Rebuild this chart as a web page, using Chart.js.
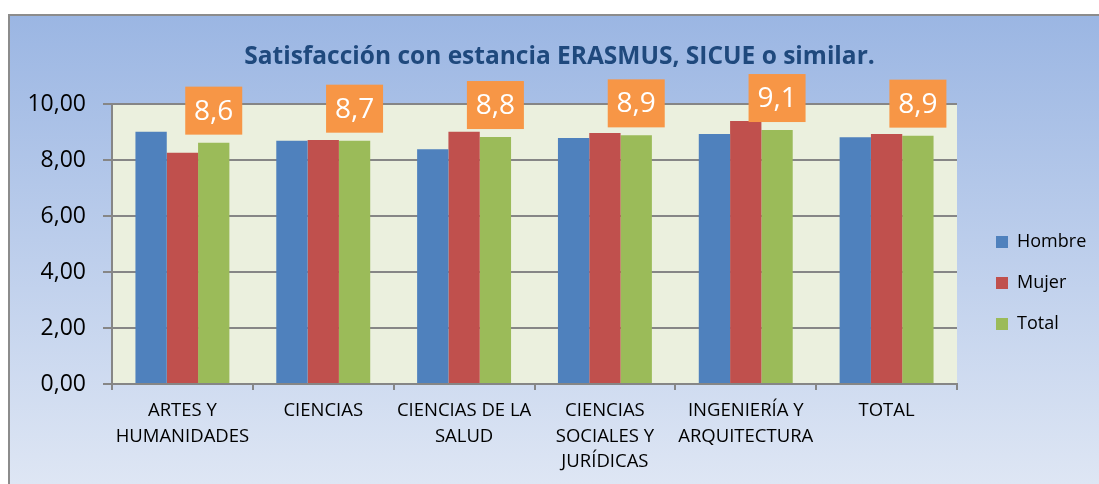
<!DOCTYPE html>
<html lang="es">
<head>
    <meta charset="UTF-8">
    <title>Satisfacción con estancia ERASMUS, SICUE o similar.</title>
    <script src="https://cdn.jsdelivr.net/npm/chart.js"></script>
    <style>
        html, body { margin: 0; padding: 0; background: #fff; }
        #frame {
            position: absolute; left: 8px; top: 14px; width: 1091px; height: 470px;
            box-sizing: border-box;
            border-left: 2px solid #8c8c8c; border-top: 2px solid #8c8c8c;
            background: linear-gradient(to bottom, #9bb6e3, #dee6f4);
        }
        #wrap { position: absolute; left: 0; top: 0; width: 1099px; height: 484px; }
    </style>
</head>
<body>
    <div id="frame"></div>
    <div id="wrap"><canvas id="chart" width="1099" height="484"></canvas></div>

    <script>
        // Data
        const categories = [
            ['ARTES Y', 'HUMANIDADES'],
            ['CIENCIAS'],
            ['CIENCIAS DE LA', 'SALUD'],
            ['CIENCIAS', 'SOCIALES Y', 'JURÍDICAS'],
            ['INGENIERÍA Y', 'ARQUITECTURA'],
            ['TOTAL']
        ];
        const hombre = [9.01, 8.69, 8.38, 8.79, 8.93, 8.81];
        const mujer  = [8.26, 8.71, 9.01, 8.96, 9.39, 8.93];
        const total  = [8.62, 8.69, 8.82, 8.88, 9.07, 8.87];
        const yTicks = [0, 2, 4, 6, 8, 10];

        const fmt = (v, d) => v.toFixed(d).replace('.', ',');

        // plot fill, legend placement and the orange value boxes
        const decor = {
            id: 'decor',
            afterInit(chart) {
                const lg = chart.legend;
                const fit = lg.fit;
                lg.fit = function () { fit.call(this); this.width = 142; };
            },
            afterLayout(chart) {
                const lg = chart.legend;
                const a = chart.chartArea;
                lg.left = a.right + 16;
                lg.top = a.top + 39;
                lg.bottom = a.bottom + 39;
            },
            beforeDraw(chart) {
                const { ctx, chartArea: a } = chart;
                ctx.save();
                ctx.fillStyle = '#ebf0de';
                ctx.fillRect(a.left, a.top, a.right - a.left, a.bottom - a.top);
                ctx.restore();
            },
            afterDatasetsDraw(chart) {
                const ctx = chart.ctx;
                const meta = chart.getDatasetMeta(2);
                ctx.save();
                meta.data.forEach((bar, i) => {
                    const w = 57, h = 48;
                    const top = bar.y - 8 - h;
                    ctx.fillStyle = '#f79646';
                    ctx.fillRect(bar.x - w / 2, top, w, h);
                    ctx.fillStyle = '#ffffff';
                    ctx.font = '28px "Open Sans"';
                    ctx.textAlign = 'center';
                    ctx.textBaseline = 'middle';
                    ctx.fillText(fmt(total[i], 1), bar.x, top + h / 2 + 1);
                });
                ctx.restore();
            }
        };

        new Chart(document.getElementById('chart'), {
            type: 'bar',
            data: {
                labels: categories,
                datasets: [
                    { label: 'Hombre', data: hombre, backgroundColor: '#4f81bd' },
                    { label: 'Mujer', data: mujer, backgroundColor: '#c0504d' },
                    { label: 'Total', data: total, backgroundColor: '#9bbb59' }
                ]
            },
            options: {
                responsive: false,
                animation: false,
                devicePixelRatio: 1,
                categoryPercentage: 0.667,
                barPercentage: 1,
                layout: { padding: { left: 20, right: 0, top: 0, bottom: 0 } },
                plugins: {
                    title: {
                        display: true,
                        text: 'Satisfacción con estancia ERASMUS, SICUE o similar.',
                        color: '#1f497d',
                        font: { family: 'Open Sans', size: 24.5, weight: 'bold', lineHeight: 1.2 },
                        padding: { top: 42, bottom: 32.6 }
                    },
                    legend: {
                        position: 'right',
                        fullSize: false,
                        labels: {
                            boxWidth: 12, boxHeight: 12, padding: 23,
                            color: '#000',
                            font: { family: 'Open Sans', size: 18 }
                        }
                    },
                    tooltip: { enabled: false }
                },
                scales: {
                    x: {
                        offset: true,
                        grid: { offset: true, drawOnChartArea: false, tickLength: 6, color: '#868686', lineWidth: 2 },
                        border: { color: '#868686', width: 2 },
                        ticks: {
                            color: '#000', padding: 8, maxRotation: 0, autoSkip: false,
                            font: { family: 'Open Sans', size: 18.5, lineHeight: 1.38 }
                        },
                        afterFit(s) { s.height = 100; }
                    },
                    y: {
                        min: 0, max: 10,
                        afterBuildTicks(s) { s.ticks = yTicks.map(v => ({ value: v })); },
                        grid: { color: '#868686', lineWidth: 2, tickLength: 9 },
                        border: { color: '#868686', width: 2 },
                        ticks: {
                            color: '#000', padding: 17,
                            font: { family: 'Open Sans', size: 23 },
                            callback: v => fmt(v, 2)
                        },
                        afterFit(s) { s.width = 92; }
                    }
                }
            },
            plugins: [decor]
        });
    </script>
</body>
</html>
